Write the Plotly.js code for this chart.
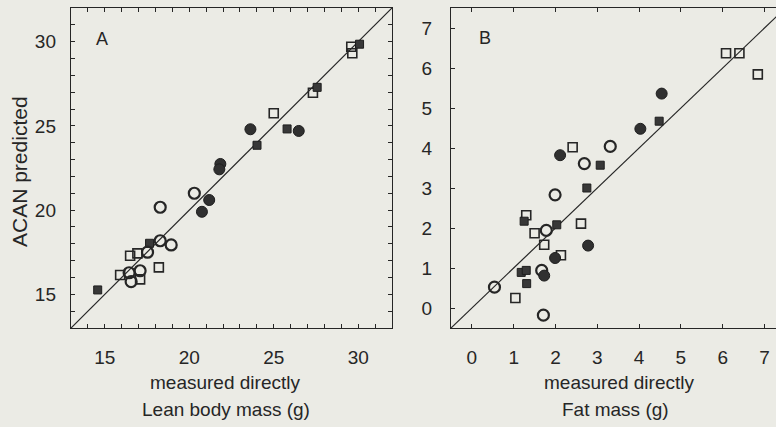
<!DOCTYPE html>
<html>
<head>
<meta charset="utf-8">
<script src="https://cdn.plot.ly/plotly-3.0.1.min.js"></script>
<style>html,body{margin:0;padding:0;background:#ebebe5;}#chart{width:776px;height:427px;}</style>
</head>
<body>
<div id="chart"></div>
<script>
// ---------- Panel A: Lean body mass (g) ----------
const A_openCircle_x = [18.28, 20.30, 18.28, 18.93, 17.53, 16.44, 17.09, 16.56];
const A_openCircle_y = [20.17, 21.00, 18.18, 17.93, 17.50, 16.28, 16.40, 15.75];
const A_filledCircle_x = [23.62, 26.48, 21.84, 21.78, 21.18, 20.75];
const A_filledCircle_y = [24.80, 24.70, 22.74, 22.42, 20.60, 19.90];
const A_openSquare_x = [16.50, 16.93, 15.91, 18.20, 17.09, 25.00, 27.32, 29.59, 29.65];
const A_openSquare_y = [17.29, 17.43, 16.15, 16.60, 15.89, 25.75, 26.97, 29.70, 29.31];
const A_filledSquare_x = [14.58, 17.65, 24.01, 25.79, 27.57, 30.08];
const A_filledSquare_y = [15.26, 18.03, 23.85, 24.82, 27.29, 29.85];
const A_ticks = [15, 20, 25, 30];
const A_minorTicks = [13, 14, 15, 16, 17, 18, 19, 20, 21, 22, 23, 24, 25, 26, 27, 28, 29, 30, 31, 32];
const A_range = [13, 32];

// ---------- Panel B: Fat mass (g) ----------
const B_openCircle_x = [3.31, 2.69, 1.99, 1.78, 1.67, 0.54, 1.71];
const B_openCircle_y = [4.04, 3.61, 2.83, 1.94, 0.94, 0.52, -0.18];
const B_filledCircle_x = [4.54, 4.03, 2.11, 2.78, 1.99, 1.73];
const B_filledCircle_y = [5.36, 4.48, 3.82, 1.56, 1.25, 0.81];
const B_openSquare_x = [6.08, 6.40, 6.84, 2.41, 1.30, 2.61, 1.50, 1.73, 2.13, 1.04];
const B_openSquare_y = [6.37, 6.37, 5.84, 4.02, 2.32, 2.11, 1.87, 1.58, 1.32, 0.25];
const B_filledSquare_x = [4.48, 3.07, 2.75, 2.03, 1.25, 1.18, 1.30, 1.31];
const B_filledSquare_y = [4.67, 3.57, 3.00, 2.08, 2.17, 0.89, 0.94, 0.61];
const B_ticks = [0, 1, 2, 3, 4, 5, 6, 7];
const B_range = [-0.5, 7.5];

const ink = '#262626';
const bg = '#ebebe5';
const font = {family: 'Liberation Sans, Arial, sans-serif', size: 19, color: ink};

function markers(x, y, xa, ya, kind) {
  const m = {
    openCircle: {symbol: 'circle-open', size: 11, color: ink, line: {width: 2.2, color: ink}},
    filledCircle: {symbol: 'circle', size: 11, color: '#303030', line: {width: 1, color: '#1e1e1e'}},
    openSquare: {symbol: 'square-open', size: 9, color: ink, line: {width: 1.6, color: ink}},
    filledSquare: {symbol: 'square', size: 8, color: '#383838', line: {width: 1, color: '#1e1e1e'}}
  }[kind];
  return {x: x, y: y, xaxis: xa, yaxis: ya, type: 'scatter', mode: 'markers', marker: m, hoverinfo: 'skip', showlegend: false, cliponaxis: false};
}
function identity(r, xa, ya) {
  return {x: r, y: r, xaxis: xa, yaxis: ya, type: 'scatter', mode: 'lines', line: {color: ink, width: 1.2}, hoverinfo: 'skip', showlegend: false};
}

const data = [
  identity(A_range, 'x', 'y'),
  markers(A_openSquare_x, A_openSquare_y, 'x', 'y', 'openSquare'),
  markers(A_filledSquare_x, A_filledSquare_y, 'x', 'y', 'filledSquare'),
  markers(A_openCircle_x, A_openCircle_y, 'x', 'y', 'openCircle'),
  markers(A_filledCircle_x, A_filledCircle_y, 'x', 'y', 'filledCircle'),
  identity(B_range, 'x2', 'y2'),
  markers(B_openSquare_x, B_openSquare_y, 'x2', 'y2', 'openSquare'),
  markers(B_filledSquare_x, B_filledSquare_y, 'x2', 'y2', 'filledSquare'),
  markers(B_openCircle_x, B_openCircle_y, 'x2', 'y2', 'openCircle'),
  markers(B_filledCircle_x, B_filledCircle_y, 'x2', 'y2', 'filledCircle')
];

const W = 776, H = 427;
const axBase = {showgrid: false, zeroline: false, showline: true, linecolor: ink, linewidth: 1.2,
  ticks: 'inside', ticklen: 4, tickwidth: 1, tickcolor: ink, tickfont: font, fixedrange: true};
const A_tickText = A_minorTicks.map(v => A_ticks.indexOf(v) >= 0 ? String(v) : '');

const layout = {
  width: W, height: H,
  margin: {l: 0, r: 0, t: 0, b: 0},
  paper_bgcolor: bg, plot_bgcolor: bg,
  font: font,
  showlegend: false,
  xaxis: Object.assign({}, axBase, {domain: [71 / W, 392 / W], range: A_range, anchor: 'y',
    mirror: 'allticks', tickvals: A_minorTicks, ticktext: A_tickText, ticklabelstandoff: 12}),
  yaxis: Object.assign({}, axBase, {domain: [(H - 328) / H, (H - 8) / H], range: A_range, anchor: 'x',
    mirror: 'allticks', tickvals: A_minorTicks, ticktext: A_tickText, ticklabelstandoff: 10}),
  xaxis2: Object.assign({}, axBase, {domain: [451 / W, 1], range: [-0.5, -0.5 + 325 / 41.8], anchor: 'y2',
    mirror: 'allticks', tickvals: B_ticks, ticktext: B_ticks.map(String), ticklabelstandoff: 12}),
  yaxis2: Object.assign({}, axBase, {domain: [(H - 328) / H, (H - 8) / H], range: B_range, anchor: 'x2',
    mirror: false, tickvals: B_ticks, ticktext: B_ticks.map(String), ticklabelstandoff: 14}),
  annotations: [
    {text: 'A', xref: 'paper', yref: 'paper', x: 102 / W, y: (H - 39) / H, showarrow: false, xanchor: 'center', yanchor: 'middle', font: {family: font.family, size: 18, color: ink}},
    {text: 'B', xref: 'paper', yref: 'paper', x: 485 / W, y: (H - 38.5) / H, showarrow: false, xanchor: 'center', yanchor: 'middle', font: {family: font.family, size: 18, color: ink}},
    {text: 'ACAN predicted', xref: 'paper', yref: 'paper', x: 19 / W, y: (H - 172) / H, textangle: -90, showarrow: false, xanchor: 'center', yanchor: 'middle', font: {family: font.family, size: 21, color: ink}},
    {text: 'measured directly', xref: 'paper', yref: 'paper', x: 225 / W, y: (H - 382) / H, showarrow: false, xanchor: 'center', yanchor: 'middle', font: font},
    {text: 'Lean body mass (g)', xref: 'paper', yref: 'paper', x: 226 / W, y: (H - 409) / H, showarrow: false, xanchor: 'center', yanchor: 'middle', font: font},
    {text: 'measured directly', xref: 'paper', yref: 'paper', x: 619 / W, y: (H - 382) / H, showarrow: false, xanchor: 'center', yanchor: 'middle', font: font},
    {text: 'Fat mass (g)', xref: 'paper', yref: 'paper', x: 615 / W, y: (H - 409) / H, showarrow: false, xanchor: 'center', yanchor: 'middle', font: font}
  ]
};

Plotly.newPlot('chart', data, layout, {staticPlot: true, displayModeBar: false});
</script>
</body>
</html>
